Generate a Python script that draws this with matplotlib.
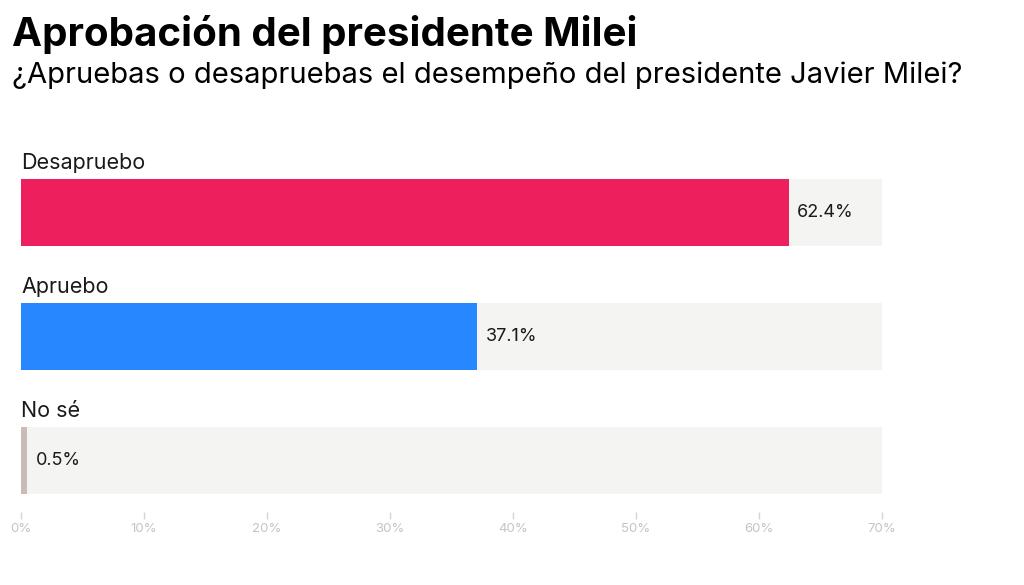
import numpy as np
import matplotlib.pyplot as plt

# datos de la encuesta
categorias = ["Desapruebo", "Apruebo", "No sé"]
valores = [62.4, 37.1, 0.5]
colores = ["#EE1F5D", "#2787FF", "#C9BCB5"]
ticks = [0, 10, 20, 30, 40, 50, 60, 70]
tick_labels = ["0%", "10%", "20%", "30%", "40%", "50%", "60%", "70%"]

plt.rcParams['font.family'] = ['Inter', 'DejaVu Sans']

fig = plt.figure(figsize=(10.24, 5.85), dpi=100)
ax = fig.add_axes([21/1024, 1 - 494/585, 861/1024, 344/585])

pos = np.arange(len(categorias))
alto = 0.54
ax.barh(pos, [70]*len(pos), height=alto, color="#F4F4F2", zorder=1)
ax.barh(pos, valores, height=alto, color=colores, zorder=2)

for i in range(len(categorias)):
    ax.text(0, pos[i] - alto/2 - 0.08, categorias[i], fontsize=15.5,
            color="#1a1a1a", ha="left", va="baseline")
    ax.text(valores[i] + 0.7, pos[i], f"{valores[i]}%", fontsize=13,
            color="#1a1a1a", ha="left", va="center", zorder=3)

ax.set_xlim(0, 70)
ax.set_ylim(2 + alto/2, -0.504)
ax.set_xticks(ticks)
ax.set_xticklabels(tick_labels)
ax.set_yticks([])
for s in ["top", "right", "left"]:
    ax.spines[s].set_visible(False)
ax.spines["bottom"].set_position(("outward", 13))
ax.spines["bottom"].set_color("none")
ax.tick_params(axis="x", length=5, width=1, color="#D5D5D5",
               labelcolor="#C4C4C8", labelsize=9.5, pad=3)

fig.text(12/1024, 1 - 46/585, "Aprobación del presidente Milei",
         fontsize=29, fontweight="bold", color="black", ha="left", va="baseline")
fig.text(12/1024, 1 - 83/585, "¿Apruebas o desapruebas el desempeño del presidente Javier Milei?",
         fontsize=21, color="black", ha="left", va="baseline")

fig.savefig("out.png", dpi=100, facecolor="white")
